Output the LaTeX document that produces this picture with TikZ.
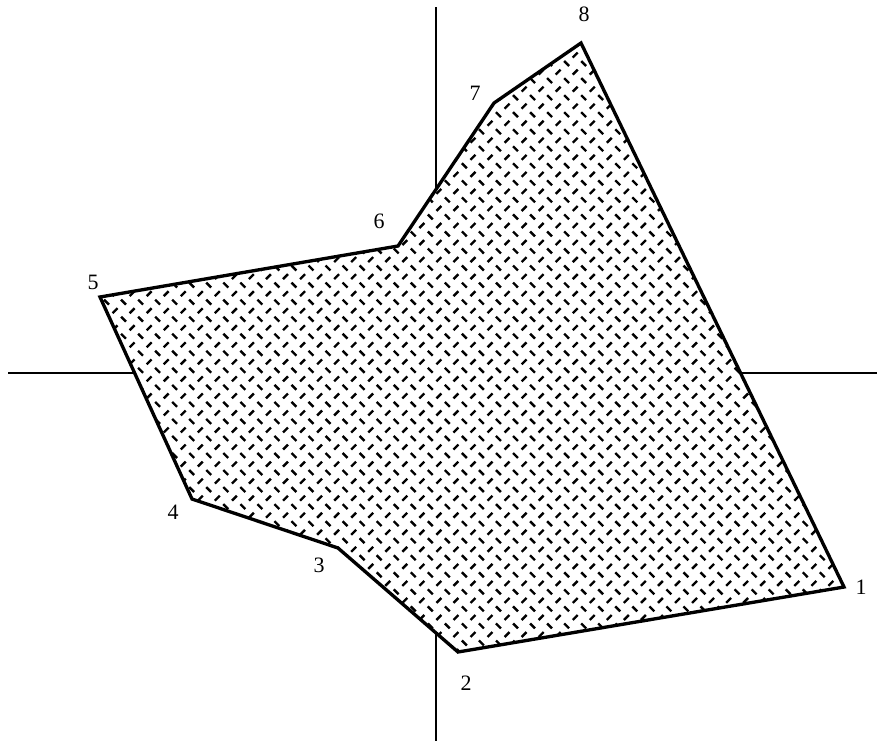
\documentclass[tikz,border=0pt]{standalone}
\usepackage{fontspec}
\setmainfont{Liberation Serif}
\usetikzlibrary{patterns}

% dashes of a chequer plate
\pgfdeclarepatternformonly{plate}{\pgfpoint{-1pt}{-1pt}}{\pgfpoint{10.7pt}{10.7pt}}{\pgfpoint{9.7pt}{9.7pt}}{
  \pgfsetlinewidth{1.35pt}
  \pgfpathmoveto{\pgfpoint{1pt}{8.7pt}}
  \pgfpathlineto{\pgfpoint{3.8pt}{5.9pt}}
  \pgfpathmoveto{\pgfpoint{5.9pt}{1pt}}
  \pgfpathlineto{\pgfpoint{8.7pt}{3.8pt}}
  \pgfusepath{stroke}
}

\tikzset{
  axis/.style={line width=1.2pt},
  region/.style={line width=1.9pt, line join=miter, fill=white, postaction={pattern=plate}},
  vlabel/.style={font=\fontsize{12.5}{14}\selectfont, inner sep=0pt}
}

\begin{document}
\begin{tikzpicture}[x=0.02cm, y=-0.02cm]
        \useasboundingbox (0,0) rectangle (878,741);

        % axes
        \coordinate (xl) at (8,373);
        \coordinate (xr) at (877,373);
        \coordinate (yt) at (436,7);
        \coordinate (yb) at (436,741);
        \draw[axis] (xl) -- (xr);
        \draw[axis] (yt) -- (yb);

        % corners
        \foreach \n/\x/\y in {1/844/587, 2/458/652, 3/338/548, 4/192/499,
                              5/100/297, 6/398/246, 7/494/103, 8/581/43} {
          \coordinate (p\n) at (\x,\y);
        }

        \draw[region] (p1) -- (p2) -- (p3) -- (p4) -- (p5) -- (p6) -- (p7) -- (p8) -- cycle;

        % numbers
        \foreach \n/\x/\y in {1/861/587, 2/466/683, 3/319/565, 4/173/512,
                              5/93/282, 6/379/221, 7/475/93, 8/584/14} {
          \node[vlabel] (l\n) at (\x,\y) {\n};
        }
      \end{tikzpicture}
\end{document}
